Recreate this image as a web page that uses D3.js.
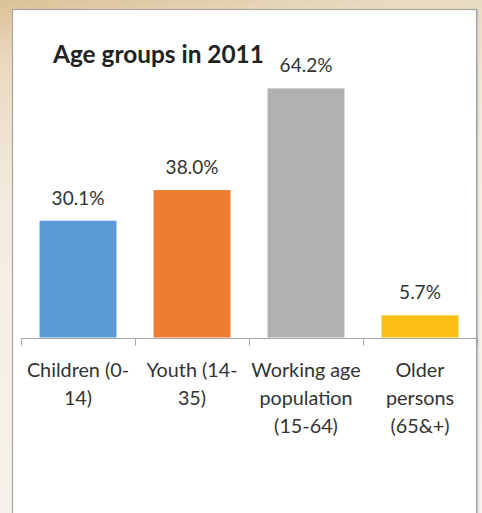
<!DOCTYPE html>
<html>
<head>
<meta charset="utf-8">
<script src="https://cdn.jsdelivr.net/npm/d3@7"></script>
<style>
  html, body { margin: 0; padding: 0; background: #fff; }
  svg { display: block; }
  text { font-family: Lato, "Open Sans", sans-serif; }
</style>
</head>
<body>
<div id="chart"></div>
<script>
// Share of population by age group, 2011
const categories = ["Children (0-14)", "Youth (14-35)", "Working age population (15-64)", "Older persons (65&+)"];
const categoryLines = [
  ["Children (0-", "14)"],
  ["Youth (14-", "35)"],
  ["Working age", "population", "(15-64)"],
  ["Older", "persons", "(65&+)"]
];
const shares = [30.1, 38.0, 64.2, 5.7];
const valueLabels = ["30.1%", "38.0%", "64.2%", "5.7%"];
const barColors = ["#5b9bd5", "#ed7d31", "#b0b1b3", "#fbbf14"];
const title = "Age groups in 2011";

const W = 482, H = 513;
const svg = d3.select("#chart").append("svg")
  .attr("width", W).attr("height", H);

// warm slide backdrop
const defs = svg.append("defs");
const bg = defs.append("linearGradient").attr("id", "bg")
  .attr("x1", 0).attr("y1", 0).attr("x2", 0.15).attr("y2", 1);
bg.append("stop").attr("offset", "0%").attr("stop-color", "#dbc196");
bg.append("stop").attr("offset", "12%").attr("stop-color", "#e8dac0");
bg.append("stop").attr("offset", "40%").attr("stop-color", "#f3ece0");
bg.append("stop").attr("offset", "100%").attr("stop-color", "#f6f3ee");
svg.append("rect").attr("width", W).attr("height", H).attr("fill", "url(#bg)");

// chart panel
svg.append("rect")
  .attr("x", 13.5).attr("y", 10.5)
  .attr("width", 464).attr("height", 520)
  .attr("fill", "none").attr("stroke", "#c9c9c9").attr("stroke-width", 2);
svg.append("rect")
  .attr("x", 12.5).attr("y", 9.5)
  .attr("width", 464).attr("height", 520)
  .attr("fill", "#ffffff").attr("stroke", "#a6a6a6").attr("stroke-width", 1.2);

const x = d3.scaleBand()
  .domain(categories)
  .range([21, 477])
  .paddingInner(0.325)
  .paddingOuter(0.1625);

const y = d3.scaleLinear()
  .domain([0, 70])
  .range([337.5, 337.5 - 3.88 * 70]);

const data = categories.map((c, i) => ({
  cat: c, value: shares[i], label: valueLabels[i], lines: categoryLines[i], color: barColors[i]
}));

// bars
svg.append("g").selectAll("rect")
  .data(data).join("rect")
  .attr("x", d => x(d.cat))
  .attr("y", d => y(d.value))
  .attr("width", x.bandwidth())
  .attr("height", d => y(0) - y(d.value))
  .attr("fill", d => d.color);

// category axis: baseline with tick marks between categories
const step = x.step();
const x0 = x.range()[0];
const boundaries = d3.range(categories.length + 1).map(i => x0 + i * step);
const axis = svg.append("g").attr("stroke", "#a6a6a6").attr("stroke-width", 1);
axis.append("line")
  .attr("x1", x0).attr("x2", x.range()[1])
  .attr("y1", y(0) + 1).attr("y2", y(0) + 1);
axis.selectAll("line.tick")
  .data(boundaries).join("line").attr("class", "tick")
  .attr("x1", d => Math.round(d) + 0.5).attr("x2", d => Math.round(d) + 0.5)
  .attr("y1", y(0) + 1).attr("y2", y(0) + 8);

// value labels
svg.append("g").selectAll("text")
  .data(data).join("text")
  .attr("x", d => x(d.cat) + x.bandwidth() / 2)
  .attr("y", d => y(d.value) - 16)
  .attr("text-anchor", "middle")
  .attr("font-size", 19)
  .attr("fill", "#333333")
  .text(d => d.label);

// category labels
const cat = svg.append("g").selectAll("text")
  .data(data).join("text")
  .attr("text-anchor", "middle")
  .attr("font-size", 19.8)
  .attr("fill", "#333333");
cat.selectAll("tspan")
  .data(d => d.lines.map(l => ({ l, cx: x(d.cat) + x.bandwidth() / 2 })))
  .join("tspan")
  .attr("x", t => t.cx)
  .attr("y", (t, i) => 377 + i * 28)
  .text(t => t.l);

// title
svg.append("text")
  .attr("x", 53).attr("y", 63)
  .attr("font-size", 24.4)
  .attr("font-weight", "bold")
  .attr("fill", "#222222")
  .text(title);
</script>
</body>
</html>
